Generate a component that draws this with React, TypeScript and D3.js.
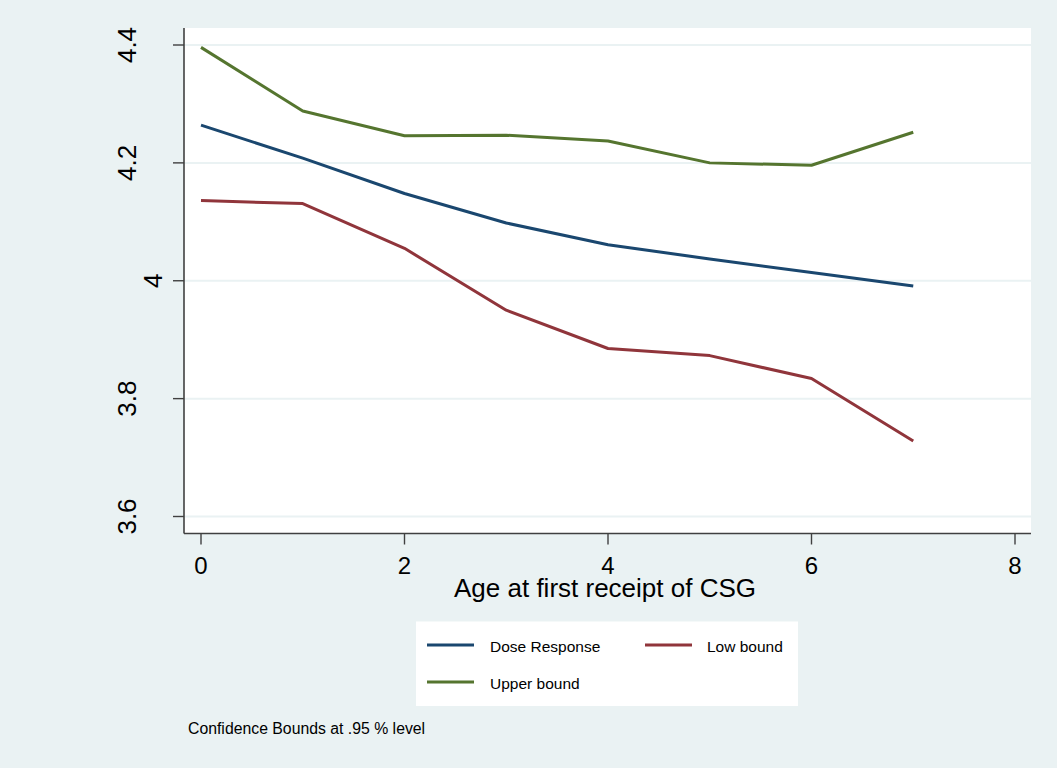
import React from "react";
import * as d3 from "d3";

const ages = [0, 1, 2, 3, 4, 5, 6, 7];
const doseResponse = [4.264, 4.208, 4.148, 4.098, 4.061, 4.037, 4.014, 3.991];
const lowBound = [4.136, 4.131, 4.055, 3.95, 3.885, 3.873, 3.834, 3.728];
const upperBound = [4.396, 4.288, 4.246, 4.247, 4.237, 4.2, 4.196, 4.252];
const xTicks = [0, 2, 4, 6, 8];
const yTicks = [3.6, 3.8, 4.0, 4.2, 4.4];
const yTickLabels = ["3.6", "3.8", "4", "4.2", "4.4"];

const seriesList = [
  { name: "Dose Response", values: doseResponse, color: "#1a476f" },
  { name: "Low bound", values: lowBound, color: "#90353b" },
  { name: "Upper bound", values: upperBound, color: "#55752f" },
];

const W = 1057;
const H = 768;
const BG = "#eaf2f3";
const FONT = "'Liberation Sans', Arial, sans-serif";
const plot = { left: 184, right: 1031, top: 28, bottom: 533.5 };

export default function App() {
  const x = d3.scaleLinear().domain([0, 8]).range([201, 1015]);
  const y = d3.scaleLinear().domain([3.6, 4.4]).range([516.5, 45]);
  const line = d3
    .line<number>()
    .x((_, i) => x(ages[i]))
    .y((d) => y(d));

  const legendItems = [
    { s: seriesList[0], lx: 427, ly: 645, tx: 490 },
    { s: seriesList[1], lx: 645, ly: 645, tx: 707 },
    { s: seriesList[2], lx: 427, ly: 682, tx: 490 },
  ];

  return (
    <svg
      width={W}
      height={H}
      style={{ position: "absolute", left: 0, top: 0, display: "block" }}
      fontFamily={FONT}
    >
      <rect x={0} y={0} width={W} height={H} fill={BG} />
      <rect
        x={plot.left}
        y={plot.top}
        width={plot.right - plot.left}
        height={plot.bottom - plot.top}
        fill="#ffffff"
      />
      {yTicks.map((t) => (
        <line
          key={"g" + t}
          x1={plot.left}
          x2={plot.right}
          y1={y(t)}
          y2={y(t)}
          stroke={BG}
          strokeWidth={2}
        />
      ))}
      {seriesList.map((s) => (
        <path
          key={s.name}
          d={line(s.values) || ""}
          fill="none"
          stroke={s.color}
          strokeWidth={3}
          strokeLinejoin="round"
        />
      ))}
      <line x1={plot.left} x2={plot.left} y1={plot.top} y2={plot.bottom} stroke="#404040" strokeWidth={1.6} />
      <line x1={plot.left} x2={plot.right} y1={plot.bottom} y2={plot.bottom} stroke="#404040" strokeWidth={1.6} />
      {yTicks.map((t, i) => {
        const lab = yTickLabels[i];
        const bx = 136 + (3 - lab.length) * 13;
        return (
          <g key={"yt" + t}>
            <line x1={173} x2={plot.left} y1={y(t)} y2={y(t)} stroke="#404040" strokeWidth={1.4} />
            <text
              transform={`translate(${bx},${y(t)}) rotate(-90)`}
              textAnchor="middle"
              fontSize={26}
              fill="#000"
            >
              {lab}
            </text>
          </g>
        );
      })}
      {xTicks.map((t) => (
        <g key={"xt" + t}>
          <line x1={x(t)} x2={x(t)} y1={plot.bottom} y2={544.5} stroke="#404040" strokeWidth={1.4} />
          <text x={x(t)} y={574} textAnchor="middle" fontSize={24} fill="#000">
            {t}
          </text>
        </g>
      ))}
      <text x={605} y={597} textAnchor="middle" fontSize={26} fill="#000">
        Age at first receipt of CSG
      </text>
      <rect x={416} y={621.5} width={382} height={84.5} fill="#ffffff" />
      {legendItems.map((it) => (
        <g key={"lg" + it.s.name}>
          <line x1={it.lx} x2={it.lx + 47} y1={it.ly} y2={it.ly} stroke={it.s.color} strokeWidth={3} />
          <text x={it.tx} y={it.ly + 7} fontSize={15.5} fill="#000">
            {it.s.name}
          </text>
        </g>
      ))}
      <text x={188} y={734} fontSize={15.8} fill="#000">
        Confidence Bounds at .95 % level
      </text>
    </svg>
  );
}
